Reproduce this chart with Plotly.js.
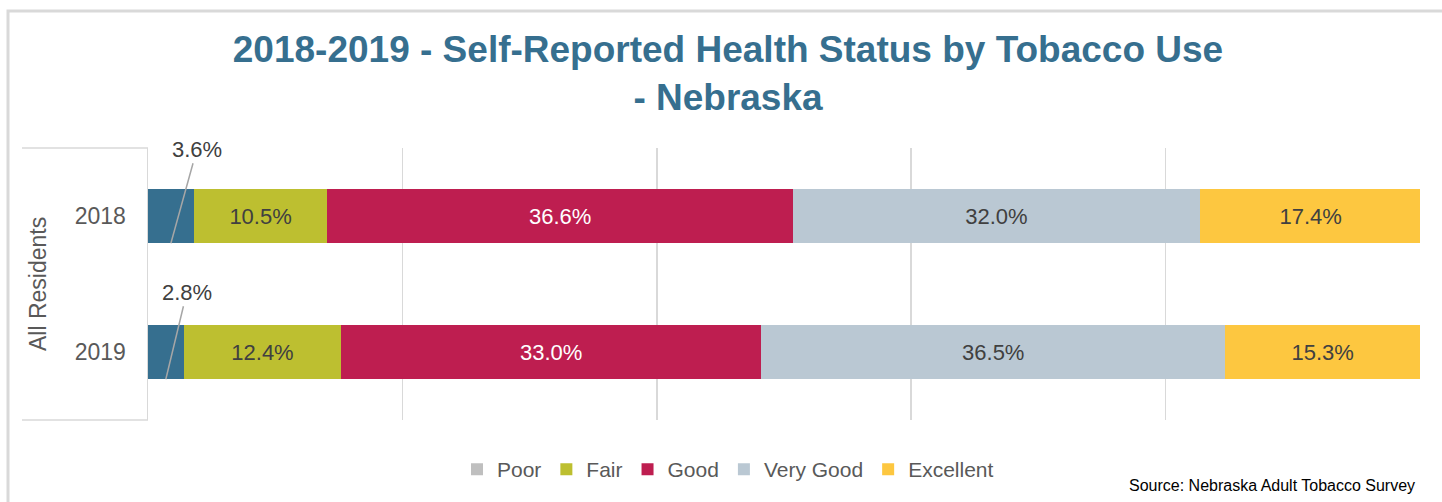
<!DOCTYPE html>
<html>
<head>
<meta charset="utf-8">
<script src="https://cdn.plot.ly/plotly-3.0.1.min.js"></script>
<style>
html,body{margin:0;padding:0;background:#fff;}
#chart{width:1442px;height:502px;}
</style>
</head>
<body>
<div id="chart"></div>
<script>
const groupLabel = "All Residents";
const years = ["2018", "2019"];
const seriesNames = ["Poor", "Fair", "Good", "Very Good", "Excellent"];
const poor = [3.6, 2.8];
const fair = [10.5, 12.4];
const good = [36.6, 33.0];
const veryGood = [32.0, 36.5];
const excellent = [17.4, 15.3];
const seriesValues = [poor, fair, good, veryGood, excellent];
const barColors = ["#366F8F", "#BDBF30", "#BE1E50", "#BAC8D3", "#FDC740"];
const legendColors = ["#BFBFBF", "#BDBF30", "#BE1E50", "#BAC8D3", "#FDC740"];
const labelColors = ["#404040", "#404040", "#FFFFFF", "#404040", "#404040"];
const sourceText = "Source: Nebraska Adult Tobacco Survey";
const titleText = "2018-2019 - Self-Reported Health Status by Tobacco Use<br>- Nebraska";

const FONT = "Liberation Sans, Arial, sans-serif";
const W = 1442, H = 502, L = 148, R = 22, T = 148, B = 80;
const PW = W - L - R, PH = H - T - B;
const px = x => (x - L) / PW;
const py = y => (H - B - y) / PH;

const traces = [];
seriesNames.forEach((name, i) => {
  const vals = seriesValues[i];
  traces.push({
    type: "bar",
    orientation: "h",
    name: name,
    x: vals,
    y: years,
    marker: {color: barColors[i], line: {width: 0}},
    text: i === 0 ? vals.map(() => "") : vals.map(v => v.toFixed(1) + "%"),
    textposition: i === 0 ? "none" : "inside",
    insidetextanchor: "middle",
    textfont: {family: FONT, size: 22, color: labelColors[i]},
    showlegend: i !== 0,
    legendrank: i + 1,
    hoverinfo: "x+name"
  });
});
// legend entry for Poor (legend swatch drawn grey in reference)
traces.push({
  type: "bar",
  orientation: "h",
  name: seriesNames[0],
  x: [null],
  y: [years[0]],
  marker: {color: legendColors[0]},
  showlegend: true,
  legendrank: 0,
  hoverinfo: "skip"
});

const annotations = poor.map((v, i) => ({
  x: v / 2,
  y: i + 0.2,
  xref: "x",
  yref: "y",
  text: v.toFixed(1) + "%",
  showarrow: true,
  arrowhead: 0,
  arrowwidth: 1.5,
  arrowcolor: "#A6A6A6",
  ax: i === 0 ? 26 : 21,
  ay: i === 0 ? -94 : -87,
  font: {family: FONT, size: 22, color: "#404040"}
}));
annotations.push({
  xref: "paper", yref: "paper",
  x: px(1417), y: py(488),
  xanchor: "right", yanchor: "middle",
  text: sourceText, showarrow: false,
  font: {family: FONT, size: 16, color: "#000000"}
});
annotations.push({
  xref: "paper", yref: "paper",
  x: px(38), y: 0.5,
  xanchor: "center", yanchor: "middle",
  text: groupLabel, showarrow: false, textangle: -90,
  font: {family: FONT, size: 23, color: "#595959"}
});

const layout = {
  width: W,
  height: H,
  margin: {l: L, r: R, t: T, b: B},
  paper_bgcolor: "#FFFFFF",
  plot_bgcolor: "#FFFFFF",
  barmode: "stack",
  bargap: 0.6,
  title: {
    text: titleText,
    font: {family: FONT, size: 37, color: "#366F8F", weight: "bold"},
    x: 728 / W,
    xanchor: "center",
    y: 1 - 62 / H,
    yanchor: "middle"
  },
  xaxis: {
    range: [0, 100],
    showticklabels: false,
    showgrid: true,
    gridcolor: "#D9D9D9",
    gridwidth: 1.5,
    zeroline: false,
    showline: false,
    ticks: "",
    dtick: 20,
    fixedrange: true
  },
  yaxis: {
    type: "category",
    range: [1.5, -0.5],
    showline: true,
    linecolor: "#D9D9D9",
    linewidth: 1.5,
    ticks: "",
    ticklabelstandoff: 16,
    tickfont: {family: FONT, size: 23, color: "#595959"},
    showgrid: false,
    zeroline: false,
    fixedrange: true
  },
  legend: {
    orientation: "h",
    x: px(728),
    xanchor: "center",
    y: py(472),
    yanchor: "middle",
    font: {family: FONT, size: 21, color: "#595959"},
    traceorder: "normal",
    itemclick: false
  },
  annotations: annotations,
  shapes: [{
    type: "rect",
    xref: "paper", yref: "paper",
    x0: px(8), x1: px(1460),
    y0: py(520), y1: py(10),
    line: {color: "#D9D9D9", width: 3},
    fillcolor: "rgba(0,0,0,0)",
    layer: "below"
  }, {
    type: "line", xref: "paper", yref: "paper",
    x0: px(22), x1: 0, y0: 1, y1: 1,
    line: {color: "#D9D9D9", width: 1.5}
  }, {
    type: "line", xref: "paper", yref: "paper",
    x0: px(22), x1: 0, y0: 0, y1: 0,
    line: {color: "#D9D9D9", width: 1.5}
  }],
  font: {family: FONT, color: "#595959"}
};

Plotly.newPlot("chart", traces, layout, {displayModeBar: false, staticPlot: true});
</script>
</body>
</html>
